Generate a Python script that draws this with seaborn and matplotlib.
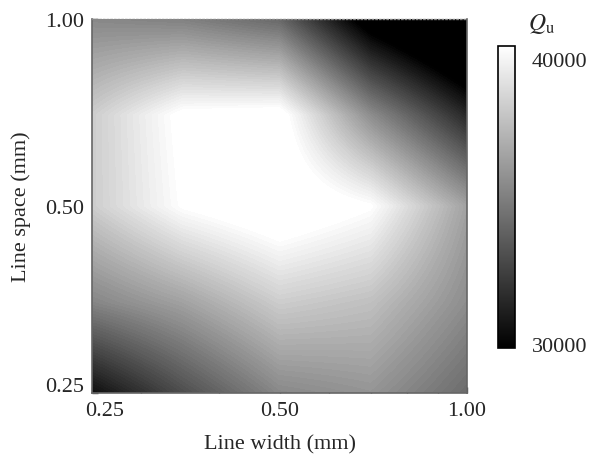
import numpy as np
import matplotlib
matplotlib.use("Agg")
import matplotlib.pyplot as plt
import seaborn as sns
from matplotlib.transforms import ScaledTranslation
from matplotlib.ticker import FixedLocator, NullFormatter

# ---- data ----
line_width = [0.25, 0.35, 0.5, 0.7, 1.0]
line_space = [0.25, 0.35, 0.5, 0.7, 1.0]
qu_space_025 = [30500, 33000, 35300, 35800, 34200]
qu_space_035 = [35200, 36300, 38000, 37500, 35500]
qu_space_050 = [38000, 40000, 41000, 40000, 36300]
qu_space_070 = [38000, 40200, 40400, 35500, 31500]
qu_space_100 = [35300, 35000, 34000, 29000, 26000]
tick_values = [0.25, 0.5, 1.0]
tick_labels = ["0.25", "0.50", "1.00"]
minor_ticks = [0.3, 0.4, 0.6, 0.7, 0.8, 0.9]
cbar_ticks = [30000, 40000]
cbar_labels = ["30000", "40000"]

sns.set_theme(style="ticks")
plt.rcParams['font.family'] = ['Liberation Serif', 'DejaVu Serif']
plt.rcParams['mathtext.fontset'] = 'stix'

Q = np.array([qu_space_025, qu_space_035, qu_space_050, qu_space_070, qu_space_100], float)

# bilinear interpolation of the measured grid in log space (rendering only)
lx = np.log10(line_width)
ly = np.log10(line_space)
fx = np.linspace(lx[0], lx[-1], 300)
fy = np.linspace(ly[0], ly[-1], 300)
rows = np.array([np.interp(fx, lx, r) for r in Q])
fine = np.array([np.interp(fy, ly, rows[:, j]) for j in range(len(fx))]).T
FX, FY = np.meshgrid(10 ** fx, 10 ** fy)

fig = plt.figure(figsize=(5.92, 4.56), dpi=100)
ax = fig.add_axes([92/592, 1-394/456, 375/592, 374/456])
levels = np.arange(25500, 43000, 150)
ax.contourf(FX, FY, fine, levels=levels, cmap='gray', vmin=30000, vmax=40000)
ax.set_xscale('log')
ax.set_yscale('log')
ax.set_xlim(0.25, 1.0)
ax.set_ylim(0.25, 1.0)
ax.set_xticks(tick_values, tick_labels)
ax.set_yticks(tick_values, tick_labels)
ax.xaxis.set_minor_locator(FixedLocator(minor_ticks))
ax.yaxis.set_minor_locator(FixedLocator(minor_ticks))
ax.xaxis.set_minor_formatter(NullFormatter())
ax.yaxis.set_minor_formatter(NullFormatter())
ax.tick_params(which='both', direction='in', top=False, right=False,
               labelsize=16, color='#444444', width=1.0)
ax.tick_params(which='major', length=4, pad=6)
ax.tick_params(which='minor', length=3)
for s in ['left', 'bottom', 'right']:
    ax.spines[s].set_color('#666666')
    ax.spines[s].set_linewidth(1.2)
ax.spines['top'].set_linestyle(':')
ax.spines['top'].set_color('#888888')
ax.spines['top'].set_linewidth(1.0)

ax.set_xlabel('Line width (mm)', fontsize=16, labelpad=10)
ax.set_ylabel('Line space (mm)', fontsize=16, labelpad=10)

xl = ax.get_xticklabels()
xl[0].set_transform(xl[0].get_transform() + ScaledTranslation(13/100, 0, fig.dpi_scale_trans))
yl = ax.get_yticklabels()
yl[0].set_transform(yl[0].get_transform() + ScaledTranslation(0, 9/100, fig.dpi_scale_trans))

sm = plt.cm.ScalarMappable(cmap='gray', norm=plt.Normalize(30000, 40000))
cax = fig.add_axes([498/592, 1-349/456, 17/592, 302/456])
cb = fig.colorbar(sm, cax=cax, ticks=cbar_ticks)
cb.set_ticklabels(cbar_labels)
cb.ax.tick_params(length=0, labelsize=16, pad=12)
cb.outline.set_edgecolor('black')
cb.outline.set_linewidth(1.2)
cl = cb.ax.get_yticklabels()
cl[0].set_transform(cl[0].get_transform() + ScaledTranslation(0, 4/100, fig.dpi_scale_trans))
cl[1].set_transform(cl[1].get_transform() + ScaledTranslation(0, -13/100, fig.dpi_scale_trans))

fig.text(541/592, 1-24/456, r'$Q_{\rm u}$', ha='center', va='center', fontsize=17)

fig.savefig('out.png', dpi=100)
